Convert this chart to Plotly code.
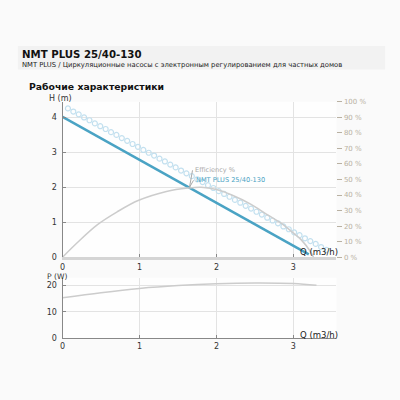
import plotly.graph_objects as go

# performance curve H(Q)
q_head = [0, 1.65, 3.2]
head = [4.02, 1.99, 0.08]

# dotted reference curve
q_dots = [0.07, 0.14, 0.21, 0.28, 0.35, 0.42, 0.49, 0.56, 0.63, 0.70, 0.77, 0.84, 0.91, 0.98,
          1.05, 1.12, 1.19, 1.26, 1.33, 1.40, 1.47, 1.54, 1.61, 1.68, 1.75, 1.82, 1.89, 1.96,
          2.03, 2.10, 2.17, 2.24, 2.31, 2.38, 2.45, 2.52, 2.59, 2.66, 2.73, 2.80, 2.87, 2.94,
          3.01, 3.08, 3.15, 3.22, 3.29, 3.36, 3.43]
h_dots = [4.26, 4.17, 4.09, 4.00, 3.92, 3.83, 3.75, 3.67, 3.58, 3.50, 3.41, 3.33, 3.24, 3.16,
          3.07, 2.99, 2.91, 2.82, 2.74, 2.65, 2.57, 2.48, 2.40, 2.32, 2.23, 2.15, 2.06, 1.98,
          1.89, 1.81, 1.73, 1.64, 1.56, 1.47, 1.39, 1.30, 1.22, 1.13, 1.05, 0.97, 0.88, 0.80,
          0.71, 0.63, 0.54, 0.46, 0.38, 0.29, 0.21]

# efficiency %
q_eff = [0, 0.19, 0.45, 0.71, 0.99, 1.35, 1.63, 1.8, 2.0, 2.2, 2.45, 2.67, 2.84, 3.0, 3.1, 3.23, 3.26]
eff = [0, 9.3, 20.8, 29.2, 36.6, 42.3, 44.5, 45, 43.5, 40, 34, 27, 21.9, 15.5, 11.3, 3, 0]

# power
q_pow = [0, 0.5, 1, 1.5, 2, 2.5, 3, 3.3]
power = [15.4, 17.3, 18.9, 20.0, 20.7, 21.0, 20.8, 20.1]

pct_vals = list(range(0, 101, 10))
pct_text = [f"{v} %" for v in pct_vals]

blue = "#4aa3c4"
gray = "#cccccc"
font = "DejaVu Sans"

fig = go.Figure()
fig.add_trace(go.Scatter(x=q_dots, y=h_dots, mode="markers",
                         marker=dict(symbol="circle-open", size=5, color="#c3e0ef", line=dict(width=1.2)),
                         xaxis="x", yaxis="y"))
fig.add_trace(go.Scatter(x=q_eff, y=eff, mode="lines", line=dict(color=gray, width=1.5, shape="spline"),
                         xaxis="x", yaxis="y2"))
fig.add_trace(go.Scatter(x=q_head, y=head, mode="lines", line=dict(color=blue, width=2.5),
                         xaxis="x", yaxis="y"))
fig.add_trace(go.Scatter(x=q_pow, y=power, mode="lines", line=dict(color=gray, width=1.5, shape="spline"),
                         xaxis="x2", yaxis="y3"))

ax_common = dict(showgrid=True, gridcolor="#e3e3e3", gridwidth=1, zeroline=False,
                 ticks="inside", ticklen=3, tickcolor="#888", showline=True, linecolor="#888",
                 ticklabelstandoff=0,
                 tickfont=dict(size=8, color="#333", family=font))
y_common = {**ax_common, "ticklabelstandoff": 3}

fig.update_layout(
    width=400, height=400,
    margin=dict(l=0, r=0, t=0, b=0),
    paper_bgcolor="#fafafa", plot_bgcolor="#fefefe",
    showlegend=False,
    font=dict(family=font),
    xaxis=dict(domain=[0.15, 0.84], range=[0, 3.56], tickvals=[0, 1, 2, 3], anchor="y",
               **{**ax_common, "linecolor": "#d5d5d5", "linewidth": 3}),
    yaxis=dict(domain=[0.3525, 0.75], range=[0, 4.45], tickvals=[0, 1, 2, 3, 4], anchor="x", **y_common),
    yaxis2=dict(overlaying="y", side="right", range=[0, 100], tickvals=pct_vals, ticktext=pct_text,
                showgrid=False, zeroline=False, showline=False, ticks="outside", ticklen=5,
                tickcolor="#b9b1a2", tickfont=dict(size=7, color="#b9b1a2", family=font), anchor="x"),
    xaxis2=dict(domain=[0.15, 0.84], range=[0, 3.56], tickvals=[0, 1, 2, 3], anchor="y3", **ax_common),
    yaxis3=dict(domain=[0.145, 0.30], range=[0, 23], tickvals=[0, 10, 20], anchor="x2", **y_common),
)

fig.add_shape(type="rect", xref="paper", yref="paper", x0=0.0375, x1=0.9625, y0=1 - 67 / 400, y1=1 - 43 / 400,
              fillcolor="#f2f2f2", line=dict(width=0), layer="below")

ann = [
    dict(x=0.043, y=1 - 52 / 400, text="<b>NMT PLUS 25/40-130</b>", size=10.2, color="#111"),
    dict(x=0.043, y=1 - 62 / 400, text="NMT PLUS / Циркуляционные насосы с электронным регулированием для частных домов",
         size=6.8, color="#222"),
    dict(x=0.06, y=1 - 84 / 400, text="<b>Рабочие характеристики</b>", size=9.3, color="#111"),
    dict(x=0.11, y=1 - 97 / 400, text="H (m)", size=8, color="#333"),
    dict(x=0.105, y=1 - 279 / 400, text="P (W)", size=7.6, color="#333"),
    dict(x=0.743, y=1 - 254 / 400, text="Q (m3/h)", size=8.5, color="#222"),
    dict(x=0.743, y=1 - 339 / 400, text="Q (m3/h)", size=8.5, color="#222"),
]
for a in ann:
    fig.add_annotation(xref="paper", yref="paper", x=a["x"], y=a["y"], text=a["text"], showarrow=False,
                       xanchor="left", yanchor="middle", font=dict(size=a["size"], color=a["color"], family=font))

fig.add_annotation(x=1.65, y=2.0, xref="x", yref="y", text="Efficiency %", showarrow=True, arrowhead=0,
                   arrowwidth=1, arrowcolor="#aaa", ax=3, ay=-17, xanchor="left",
                   font=dict(size=6.6, color="#aaa", family=font))
fig.add_annotation(x=1.65, y=2.0, xref="x", yref="y", text="NMT PLUS 25/40-130", showarrow=True, arrowhead=0,
                   arrowwidth=1, arrowcolor="#aaa", ax=4, ay=-7, xanchor="left",
                   font=dict(size=6.6, color=blue, family=font))

# drop the default body margin so the figure sits at the page corner
fig.write_html("out.html", config={"displayModeBar": False},
               post_script="document.body.style.margin='0';")
